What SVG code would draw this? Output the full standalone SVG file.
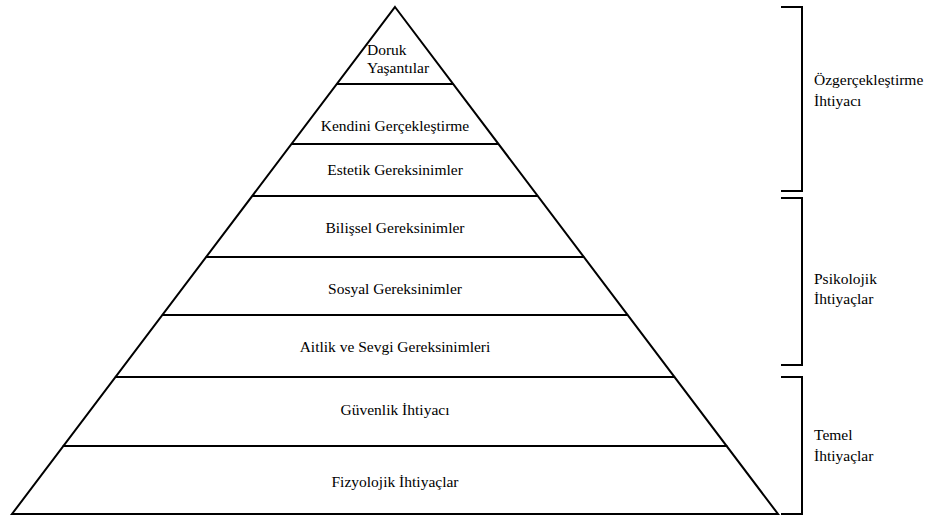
<svg xmlns="http://www.w3.org/2000/svg" width="929" height="518" viewBox="0 0 929 518">
<style>
.ln{stroke:#000;stroke-width:2;fill:none;stroke-linejoin:miter}
.c{text-anchor:middle}
.t{font-family:'Liberation Serif','Times New Roman',Times,'DejaVu Serif',serif;font-size:15.5px;fill:#000}
</style>
<rect width="929" height="518" fill="#fff"/>
<g id="pyramid">
<polygon class="ln" points="395,7 778,514 12,514"/>
</g>
<g id="connectors">
<line class="ln" x1="336.7" y1="84" x2="453.3" y2="84"/>
<line class="ln" x1="291.3" y1="144" x2="498.7" y2="144"/>
<line class="ln" x1="251.9" y1="196" x2="538.1" y2="196"/>
<line class="ln" x1="205.8" y1="257" x2="584.2" y2="257"/>
<line class="ln" x1="161.9" y1="315" x2="628.1" y2="315"/>
<line class="ln" x1="114.9" y1="377" x2="675.1" y2="377"/>
<line class="ln" x1="62.7" y1="446" x2="727.3" y2="446"/>
</g>
<g class="t">
<g id="level1"><text x="367" y="55">Doruk</text><text x="367" y="73">Yaşantılar</text></g>
<g id="level2"><text class="c" x="395" y="131">Kendini Gerçekleştirme</text></g>
<g id="level3"><text class="c" x="395" y="175">Estetik Gereksinimler</text></g>
<g id="level4"><text class="c" x="395" y="233">Bilişsel Gereksinimler</text></g>
<g id="level5"><text class="c" x="395" y="294">Sosyal Gereksinimler</text></g>
<g id="level6"><text class="c" x="395" y="352">Aitlik ve Sevgi Gereksinimleri</text></g>
<g id="level7"><text class="c" x="395" y="415">Güvenlik İhtiyacı</text></g>
<g id="level8"><text class="c" x="395" y="487">Fizyolojik İhtiyaçlar</text></g>
<g id="bracket1">
<polyline class="ln" points="781,7 802,7 802,191 781,191"/>
<text x="814" y="85">Özgerçekleştirme</text><text x="814" y="106">İhtiyacı</text>
</g>
<g id="bracket2">
<polyline class="ln" points="781,198 802,198 802,365 781,365"/>
<text x="814" y="284">Psikolojik</text><text x="814" y="304">İhtiyaçlar</text>
</g>
<g id="bracket3">
<polyline class="ln" points="781,377 802,377 802,514 781,514"/>
<text x="814" y="440">Temel</text><text x="814" y="461">İhtiyaçlar</text>
</g>
</g>
</svg>
